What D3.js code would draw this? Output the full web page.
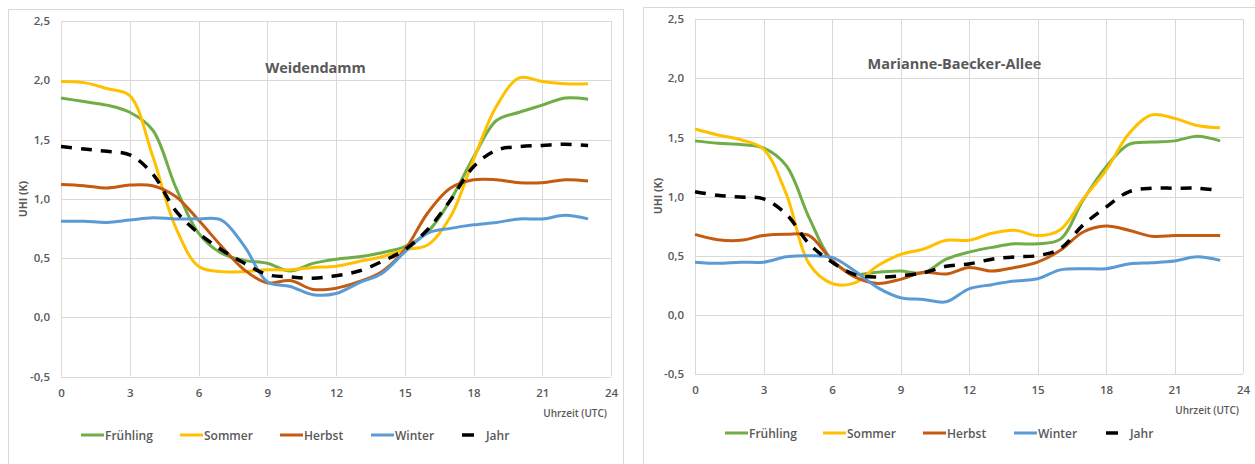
<!DOCTYPE html>
<html>
<head>
<meta charset="utf-8">
<script src="https://cdn.jsdelivr.net/npm/d3@7"></script>
<style>
  html, body { margin: 0; padding: 0; background: #ffffff; }
  svg { display: block; }
  text { font-family: "Open Sans", Lato, sans-serif; fill: #595959; }
</style>
</head>
<body>
<svg id="chart" width="1255" height="464"></svg>
<script>
// ---------- data ----------
const hours = d3.range(0, 24);
const xTicks = [0, 3, 6, 9, 12, 15, 18, 21, 24];
const yTicks = [-0.5, 0, 0.5, 1.0, 1.5, 2.0, 2.5];
const seriesNames = ["Frühling", "Sommer", "Herbst", "Winter", "Jahr"];
const chartTitles = ["Weidendamm", "Marianne-Baecker-Allee"];

// Weidendamm
const wFruehling = [1.85, 1.82, 1.79, 1.73, 1.58, 1.10, 0.71, 0.54, 0.48, 0.455, 0.39, 0.455, 0.49, 0.51, 0.545, 0.595, 0.72, 0.99, 1.35, 1.66, 1.73, 1.79, 1.85, 1.84];
const wSommer   = [1.99, 1.98, 1.93, 1.87, 1.36, 0.76, 0.43, 0.385, 0.385, 0.40, 0.40, 0.42, 0.43, 0.47, 0.51, 0.57, 0.61, 0.85, 1.33, 1.78, 2.02, 1.99, 1.97, 1.97];
const wHerbst   = [1.12, 1.11, 1.09, 1.115, 1.11, 1.02, 0.82, 0.60, 0.40, 0.29, 0.31, 0.235, 0.245, 0.30, 0.385, 0.57, 0.88, 1.09, 1.16, 1.16, 1.135, 1.135, 1.16, 1.15];
const wWinter   = [0.81, 0.81, 0.80, 0.82, 0.84, 0.83, 0.83, 0.82, 0.60, 0.30, 0.26, 0.19, 0.20, 0.29, 0.37, 0.55, 0.71, 0.75, 0.78, 0.80, 0.83, 0.83, 0.86, 0.83];
const wJahr     = [1.44, 1.42, 1.40, 1.37, 1.21, 0.90, 0.71, 0.57, 0.455, 0.36, 0.34, 0.33, 0.35, 0.39, 0.47, 0.57, 0.74, 0.99, 1.27, 1.41, 1.44, 1.45, 1.46, 1.45];

// Marianne-Baecker-Allee
const mFruehling = [1.47, 1.45, 1.44, 1.41, 1.26, 0.82, 0.46, 0.345, 0.36, 0.37, 0.355, 0.47, 0.53, 0.57, 0.60, 0.60, 0.64, 0.97, 1.25, 1.44, 1.46, 1.47, 1.51, 1.47];
const mSommer   = [1.57, 1.52, 1.48, 1.40, 1.02, 0.43, 0.265, 0.27, 0.415, 0.51, 0.555, 0.63, 0.63, 0.69, 0.715, 0.67, 0.72, 0.98, 1.22, 1.53, 1.69, 1.66, 1.60, 1.58];
const mHerbst   = [0.68, 0.635, 0.63, 0.67, 0.68, 0.67, 0.46, 0.32, 0.265, 0.30, 0.36, 0.345, 0.40, 0.37, 0.40, 0.445, 0.545, 0.70, 0.75, 0.715, 0.665, 0.67, 0.67, 0.67];
const mWinter   = [0.445, 0.435, 0.445, 0.445, 0.49, 0.50, 0.485, 0.37, 0.23, 0.145, 0.13, 0.11, 0.22, 0.255, 0.285, 0.305, 0.38, 0.39, 0.39, 0.43, 0.44, 0.455, 0.49, 0.46];
const mJahr     = [1.04, 1.01, 0.995, 0.98, 0.85, 0.60, 0.445, 0.34, 0.32, 0.33, 0.355, 0.41, 0.43, 0.47, 0.49, 0.50, 0.56, 0.76, 0.91, 1.04, 1.07, 1.07, 1.07, 1.05];

// ---------- style ----------
const colors = ["#70ad47", "#ffc000", "#c55a11", "#5b9bd5", "#000000"];
const fmt = v => d3.format(".1f")(v).replace(".", ",").replace("−", "-");

const svg = d3.select("#chart");

const layouts = [
  { frame: [8.5, 9.5, 615, 470], x0: 61, x1: 611, yTop: 21, yBot: 376.5,
    title: [315.5, 67], ylab: [23, 199], xlab: [607, 413], legendY: 435,
    legendX: [81, 180, 280, 371, 462], legendTextX: [105, 204, 304, 395, 486],
    values: [wFruehling, wSommer, wHerbst, wWinter, wJahr] },
  { frame: [643.5, 7.5, 640, 470], x0: 695, x1: 1243, yTop: 19, yBot: 374,
    title: [954.5, 63], ylab: [658, 196], xlab: [1239, 410], legendY: 433,
    legendX: [725, 823, 923, 1014, 1106], legendTextX: [749, 847, 947, 1038, 1130],
    values: [mFruehling, mSommer, mHerbst, mWinter, mJahr] }
];

layouts.forEach((L, ci) => {
  const g = svg.append("g");
  g.append("rect")
    .attr("x", L.frame[0]).attr("y", L.frame[1])
    .attr("width", L.frame[2]).attr("height", L.frame[3])
    .attr("fill", "#fff").attr("stroke", "#d9d9d9").attr("stroke-width", 1);

  const x = d3.scaleLinear().domain([0, 24]).range([L.x0, L.x1]);
  const y = d3.scaleLinear().domain([-0.5, 2.5]).range([L.yBot, L.yTop]);

  // grid
  g.append("g").selectAll("line.h").data(yTicks).join("line")
    .attr("x1", L.x0).attr("x2", L.x1)
    .attr("y1", d => Math.round(y(d)) + 0.5).attr("y2", d => Math.round(y(d)) + 0.5)
    .attr("stroke", "#d9d9d9").attr("stroke-width", 1);
  g.append("g").selectAll("line.v").data(xTicks).join("line")
    .attr("y1", L.yTop).attr("y2", L.yBot)
    .attr("x1", d => Math.round(x(d)) + 0.5).attr("x2", d => Math.round(x(d)) + 0.5)
    .attr("stroke", "#d9d9d9").attr("stroke-width", 1);

  // axes (tick labels via d3 axes)
  const yAxis = g.append("g").attr("transform", `translate(${L.x0 - 11},0)`)
    .call(d3.axisLeft(y).tickValues(yTicks).tickFormat(fmt).tickSize(0).tickPadding(0));
  const xAxis = g.append("g").attr("transform", `translate(0,${L.yBot + 12})`)
    .call(d3.axisBottom(x).tickValues(xTicks).tickFormat(d3.format("d")).tickSize(0).tickPadding(0));
  [yAxis, xAxis].forEach(a => {
    a.select(".domain").remove();
    a.selectAll("text").attr("font-size", 11.5).attr("font-weight", 600)
      .attr("fill", "#595959").style("font-family", '"Open Sans", sans-serif');
  });

  // title & axis titles
  g.append("text").attr("x", L.title[0]).attr("y", L.title[1])
    .attr("text-anchor", "middle").attr("dominant-baseline", "central")
    .attr("font-size", 14.5).attr("font-weight", 700).text(chartTitles[ci]);
  g.append("text").attr("transform", `translate(${L.ylab[0]},${L.ylab[1]}) rotate(-90)`)
    .attr("text-anchor", "middle").attr("dominant-baseline", "central")
    .attr("font-size", 10.5).attr("font-weight", 700).text("UHI (K)");
  g.append("text").attr("x", L.xlab[0]).attr("y", L.xlab[1])
    .attr("text-anchor", "end").attr("dominant-baseline", "central")
    .attr("font-size", 10).attr("font-weight", 600).text("Uhrzeit (UTC)");

  // lines
  const line = d3.line().x((d, i) => x(hours[i])).y(d => y(d)).curve(d3.curveCatmullRom.alpha(0.5));
  L.values.forEach((vals, si) => {
    g.append("path").datum(vals)
      .attr("d", line)
      .attr("fill", "none")
      .attr("stroke", colors[si])
      .attr("stroke-width", si === 4 ? 3.5 : 3)
      .attr("stroke-dasharray", si === 4 ? "11,9" : null)
      .attr("stroke-linejoin", "round");
  });

  // legend
  seriesNames.forEach((name, si) => {
    const lx = L.legendX[si];
    const len = si === 4 ? 12 : 23;
    g.append("line").attr("x1", lx).attr("x2", lx + len)
      .attr("y1", L.legendY).attr("y2", L.legendY)
      .attr("stroke", colors[si]).attr("stroke-width", si === 4 ? 3.5 : 3);
    g.append("text").attr("x", L.legendTextX[si]).attr("y", L.legendY)
      .attr("dominant-baseline", "central").attr("font-size", 12).attr("font-weight", 600)
      .text(name);
  });
});
</script>
</body>
</html>
